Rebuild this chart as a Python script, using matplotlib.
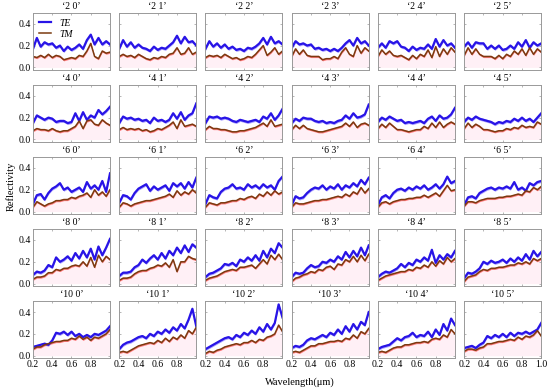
import matplotlib
matplotlib.use("Agg")
import matplotlib.pyplot as plt
import numpy as np

plt.rcParams['font.family'] = ['Liberation Serif', 'DejaVu Serif']
plt.rcParams['mathtext.fontset'] = 'stix'

wavelength = np.linspace(0.2, 1.0, 21)
heights = [2, 4, 6, 8, 10]
angles = [0, 1, 2, 3, 4, 5]

# reflectivity per panel, rows = height value, columns = second index
te_h2 = [
    [.17, .27, .19, .23, .21, .22, .18, .20, .15, .19, .16, .18, .21, .17, .25, .30, .21, .27, .21, .24, .21],
    [.17, .25, .19, .23, .18, .21, .18, .17, .15, .19, .16, .18, .17, .20, .23, .29, .22, .28, .23, .24, .20],
    [.17, .24, .19, .22, .18, .21, .17, .19, .16, .17, .15, .18, .17, .19, .22, .27, .21, .28, .22, .24, .21],
    [.18, .24, .21, .22, .20, .21, .17, .18, .16, .17, .15, .17, .15, .18, .22, .25, .20, .27, .22, .24, .20],
    [.18, .22, .18, .24, .22, .24, .19, .18, .15, .19, .16, .18, .17, .21, .17, .26, .19, .25, .20, .22, .18],
    [.19, .23, .18, .23, .22, .22, .17, .20, .17, .20, .16, .17, .20, .17, .23, .19, .25, .18, .23, .20, .22],
]
tm_h2 = [
    [.10, .09, .11, .09, .12, .09, .11, .10, .07, .08, .09, .08, .11, .10, .15, .22, .10, .08, .15, .13, .14],
    [.10, .12, .10, .11, .09, .12, .10, .08, .07, .09, .08, .10, .09, .12, .13, .18, .12, .13, .18, .12, .14],
    [.09, .11, .10, .11, .09, .12, .10, .08, .09, .07, .08, .10, .09, .12, .16, .20, .11, .14, .18, .12, .15],
    [.10, .17, .12, .16, .11, .10, .10, .10, .07, .08, .08, .10, .08, .14, .18, .12, .10, .20, .13, .18, .15],
    [.10, .16, .12, .15, .11, .10, .11, .09, .07, .11, .08, .12, .10, .16, .09, .19, .10, .17, .12, .18, .14],
    [.11, .18, .12, .17, .12, .10, .10, .10, .08, .11, .08, .12, .10, .15, .12, .17, .11, .18, .12, .17, .14],
]
te_h4 = [
    [.15, .22, .20, .18, .20, .19, .16, .17, .17, .15, .16, .24, .17, .25, .18, .22, .20, .27, .23, .26, .30],
    [.15, .21, .19, .20, .18, .19, .17, .18, .15, .20, .17, .18, .16, .18, .24, .19, .25, .18, .22, .24, .33],
    [.15, .21, .20, .21, .19, .20, .19, .17, .16, .18, .17, .16, .17, .18, .16, .21, .19, .24, .18, .22, .28],
    [.15, .19, .17, .20, .19, .19, .17, .16, .17, .15, .16, .15, .17, .18, .22, .19, .24, .20, .21, .23, .32],
    [.16, .20, .18, .21, .19, .17, .18, .15, .16, .15, .16, .17, .15, .19, .21, .17, .22, .19, .20, .23, .29],
    [.16, .20, .18, .21, .19, .18, .17, .16, .14, .16, .15, .17, .16, .19, .17, .20, .17, .19, .16, .20, .24],
]
tm_h4 = [
    [.08, .10, .09, .09, .08, .10, .08, .07, .08, .08, .10, .12, .17, .10, .17, .18, .14, .13, .18, .15, .13],
    [.09, .11, .09, .10, .09, .10, .08, .09, .07, .08, .10, .09, .11, .13, .16, .10, .18, .12, .13, .14, .12],
    [.09, .12, .10, .10, .09, .09, .08, .07, .07, .08, .08, .09, .10, .11, .13, .15, .12, .18, .12, .13, .14],
    [.09, .13, .10, .13, .10, .09, .08, .07, .07, .08, .09, .10, .11, .12, .15, .12, .16, .11, .14, .15, .13],
    [.10, .14, .11, .15, .12, .09, .09, .08, .07, .08, .09, .09, .12, .10, .15, .11, .16, .11, .14, .16, .14],
    [.10, .15, .11, .14, .12, .09, .09, .08, .07, .08, .08, .10, .09, .11, .10, .13, .11, .12, .11, .16, .14],
]
te_h6 = [
    [.07, .15, .16, .11, .17, .21, .23, .26, .20, .22, .18, .20, .22, .18, .27, .21, .24, .20, .28, .18, .35],
    [.08, .15, .14, .11, .17, .21, .23, .25, .19, .23, .20, .22, .24, .19, .26, .23, .26, .21, .27, .22, .31],
    [.07, .15, .13, .12, .18, .21, .22, .25, .21, .22, .20, .25, .22, .24, .21, .25, .22, .24, .20, .28, .32],
    [.06, .14, .12, .13, .17, .20, .22, .21, .24, .20, .23, .21, .25, .20, .24, .22, .26, .23, .29, .25, .31],
    [.06, .13, .15, .12, .17, .20, .21, .19, .22, .20, .23, .21, .24, .20, .22, .25, .21, .25, .32, .26, .28],
    [.06, .13, .14, .12, .17, .19, .21, .22, .20, .22, .21, .23, .21, .27, .20, .22, .19, .26, .24, .27, .28],
]
tm_h6 = [
    [.04, .09, .07, .05, .07, .08, .10, .10, .11, .11, .13, .12, .14, .15, .17, .13, .20, .15, .18, .14, .20],
    [.04, .08, .07, .05, .07, .08, .09, .10, .10, .11, .12, .13, .14, .16, .13, .19, .15, .18, .16, .20, .17],
    [.04, .08, .07, .06, .08, .08, .09, .10, .10, .12, .11, .13, .14, .12, .16, .14, .18, .15, .19, .16, .18],
    [.04, .08, .07, .07, .08, .09, .10, .10, .11, .11, .12, .13, .14, .13, .16, .14, .18, .16, .22, .17, .21],
    [.04, .08, .09, .07, .09, .10, .11, .11, .12, .12, .13, .13, .15, .13, .15, .17, .14, .19, .24, .19, .20],
    [.05, .09, .09, .08, .10, .11, .12, .12, .12, .13, .13, .14, .14, .15, .16, .15, .19, .18, .22, .20, .23],
]
te_h8 = [
    [.08, .11, .10, .12, .17, .15, .24, .20, .22, .25, .21, .28, .23, .30, .24, .32, .22, .34, .26, .33, .41],
    [.07, .10, .10, .11, .15, .17, .22, .19, .23, .26, .22, .28, .23, .30, .26, .33, .28, .35, .29, .36, .33],
    [.06, .09, .10, .12, .14, .18, .17, .19, .16, .22, .20, .24, .21, .26, .21, .30, .24, .32, .28, .37, .33],
    [.06, .10, .09, .10, .14, .17, .15, .16, .20, .19, .22, .20, .25, .22, .29, .24, .30, .25, .33, .26, .35],
    [.06, .09, .11, .10, .12, .14, .18, .15, .19, .17, .22, .20, .24, .21, .31, .19, .26, .22, .27, .24, .30],
    [.05, .10, .09, .11, .14, .20, .18, .21, .19, .20, .22, .19, .23, .20, .24, .21, .27, .22, .30, .25, .29],
]
tm_h8 = [
    [.04, .06, .06, .07, .10, .10, .13, .12, .14, .14, .16, .17, .16, .20, .16, .24, .15, .26, .20, .25, .22],
    [.03, .05, .05, .06, .09, .11, .12, .12, .14, .15, .17, .16, .19, .15, .22, .11, .20, .20, .25, .23, .22],
    [.03, .05, .06, .07, .09, .11, .12, .13, .12, .15, .15, .16, .17, .14, .18, .22, .18, .26, .22, .27, .22],
    [.02, .05, .06, .08, .09, .11, .10, .13, .12, .15, .16, .13, .18, .17, .22, .20, .25, .20, .26, .21, .27],
    [.03, .05, .07, .08, .09, .10, .11, .11, .13, .12, .15, .14, .17, .15, .20, .16, .21, .18, .24, .20, .23],
    [.02, .06, .07, .08, .11, .13, .12, .14, .14, .15, .15, .16, .17, .17, .19, .18, .20, .18, .23, .21, .23],
]
te_h10 = [
    [.08, .09, .10, .11, .10, .14, .21, .20, .22, .19, .22, .18, .20, .17, .19, .17, .20, .19, .21, .23, .27],
    [.06, .10, .12, .13, .15, .17, .18, .16, .20, .18, .22, .20, .24, .21, .26, .23, .29, .25, .33, .43, .27],
    [.06, .08, .10, .12, .14, .16, .17, .15, .19, .17, .21, .19, .23, .20, .26, .22, .29, .24, .30, .47, .35],
    [.07, .09, .08, .10, .14, .16, .15, .17, .19, .17, .21, .19, .24, .20, .27, .22, .29, .24, .31, .28, .40],
    [.06, .08, .09, .10, .13, .16, .14, .17, .18, .21, .17, .19, .18, .22, .17, .24, .19, .29, .23, .34, .28],
    [.07, .08, .09, .07, .10, .12, .18, .16, .19, .17, .20, .17, .21, .18, .21, .20, .22, .20, .22, .24, .30],
]
tm_h10 = [
    [.06, .08, .08, .10, .11, .12, .13, .13, .14, .14, .16, .15, .18, .15, .17, .14, .17, .16, .18, .20, .24],
    [.03, .04, .03, .05, .07, .09, .10, .11, .12, .11, .14, .12, .16, .13, .17, .15, .19, .16, .23, .20, .26],
    [.02, .04, .03, .05, .06, .08, .09, .10, .11, .10, .12, .12, .14, .12, .15, .14, .17, .18, .20, .28, .22],
    [.03, .04, .03, .05, .07, .09, .09, .11, .11, .12, .13, .13, .14, .13, .16, .15, .19, .16, .22, .20, .25],
    [.03, .04, .03, .05, .07, .08, .08, .10, .10, .11, .12, .12, .13, .12, .15, .16, .15, .19, .17, .24, .20],
    [.04, .06, .06, .05, .07, .08, .11, .11, .12, .13, .13, .14, .15, .14, .17, .15, .18, .17, .19, .23, .18],
]

te_rows = [te_h2, te_h4, te_h6, te_h8, te_h10]
tm_rows = [tm_h2, tm_h4, tm_h6, tm_h8, tm_h10]

fig, axes = plt.subplots(5, 6, figsize=(5.5, 3.89), dpi=100)
fig.subplots_adjust(left=0.06, right=0.984, top=0.967, bottom=0.08,
                    wspace=0.12, hspace=0.27)

for r, h in enumerate(heights):
    for c, a in enumerate(angles):
        ax = axes[r, c]
        te = np.array(te_rows[r][c])
        tm = np.array(tm_rows[r][c])
        ax.fill_between(wavelength, 0, tm, color='#fff0f6', lw=0)
        ax.fill_between(wavelength, te - 0.014, te + 0.014, color='#8a7cff', lw=0, alpha=0.7)
        ax.plot(wavelength, te, color='#2814e6', lw=1.6, label='TE')
        ax.fill_between(wavelength, tm - 0.01, tm + 0.01, color='#ff3030', lw=0, alpha=0.6)
        ax.plot(wavelength, tm, color='#7a3a10', lw=1.1, label='TM')
        ax.set_xlim(0.2, 1.0)
        ax.set_ylim(-0.02, 0.5)
        ax.set_xticks([0.2, 0.4, 0.6, 0.8, 1.0])
        ax.set_yticks([0.0, 0.2, 0.4])
        ax.tick_params(direction='in', length=1.5, width=0.5, colors='#999999',
                       labelcolor='black', labelsize=7, pad=1.5, top=True, right=True)
        for s in ax.spines.values():
            s.set_color('#999999')
            s.set_linewidth(0.7)
        ax.set_title("\u2018%d %d\u2019" % (h, a), fontsize=7, pad=3)
        if c == 0:
            ax.set_yticklabels(['0.0', '0.2', '0.4'])
        else:
            ax.set_yticklabels([])
        if r == 4:
            if c == 5:
                ax.set_xticklabels(['0.2', '0.4', '0.6', '0.8', '1.0'])
            else:
                ax.set_xticklabels(['0.2', '0.4', '0.6', '0.8', ''])
        else:
            ax.set_xticklabels([])

leg = axes[0, 0].legend(loc='upper left', frameon=False,
                        handlelength=1.3, borderaxespad=0.2, labelspacing=0.2,
                        prop={'style': 'italic', 'size': 7})

fig.text(0.02, 0.52, 'Reflectivity', rotation=90, va='center', ha='center', fontsize=7.5)
fig.text(0.545, 0.018, 'Wavelength(\u03bcm)', va='center', ha='center', fontsize=7.5)

fig.savefig('out.png', dpi=100)
